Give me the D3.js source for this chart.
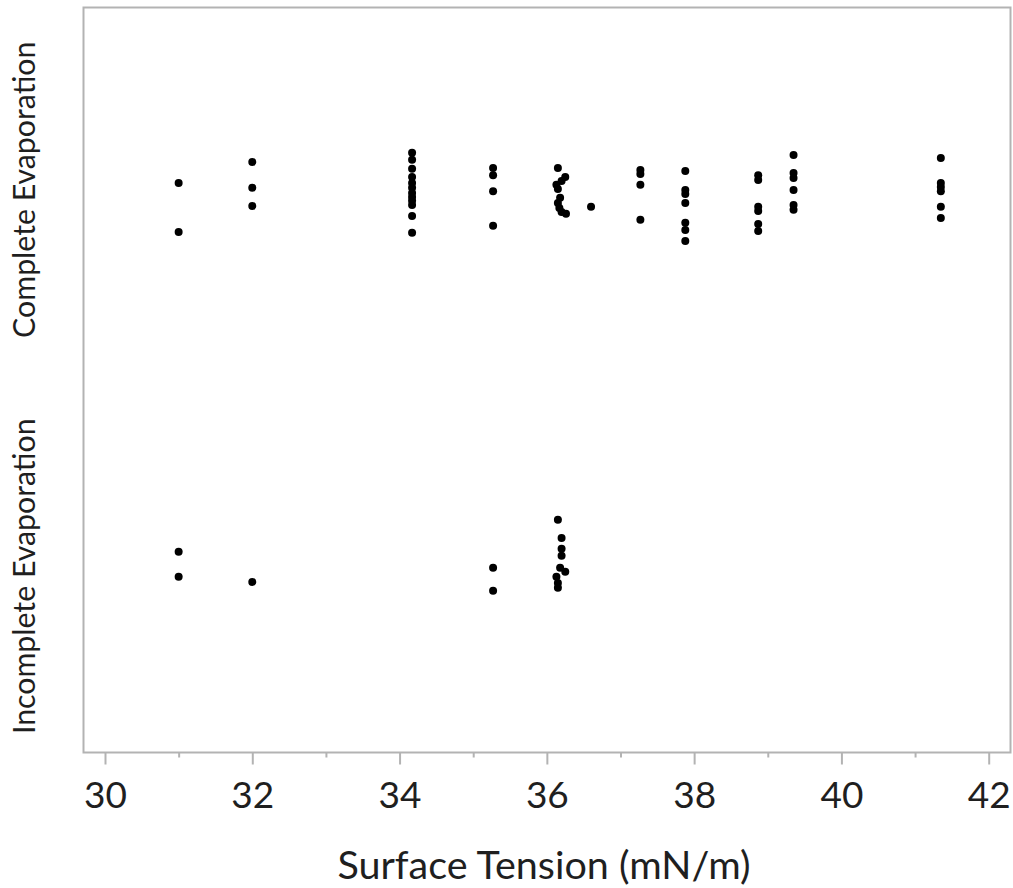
<!DOCTYPE html>
<html>
<head>
<meta charset="utf-8">
<script src="https://cdn.jsdelivr.net/npm/d3@7"></script>
<style>
  html, body { margin: 0; padding: 0; background: #fff; }
  svg { display: block; }
</style>
</head>
<body>
<svg id="chart" width="1013" height="888"></svg>
<script>
// ---- Data ----
const categories = ["Incomplete Evaporation", "Complete Evaporation"];
const categoryCenters = [0.5, 1.5];

// Complete Evaporation: surface tension (x) and jittered category position (y)
const completeX = [
  31.0, 31.0,
  32.0, 32.0, 32.0,
  34.17, 34.17, 34.17, 34.17, 34.17, 34.17, 34.17, 34.17, 34.17, 34.17, 34.17, 34.17,
  35.27, 35.27, 35.27, 35.27,
  36.15, 36.25, 36.2, 36.13, 36.15, 36.18, 36.15, 36.17, 36.2, 36.26,
  36.6,
  37.27, 37.27, 37.27, 37.27,
  37.88, 37.88, 37.88, 37.88, 37.88, 37.88, 37.88,
  38.87, 38.87, 38.87, 38.87, 38.87, 38.87,
  39.35, 39.35, 39.35, 39.35, 39.35, 39.35,
  41.35, 41.35, 41.35, 41.35, 41.35, 41.35
];
const completeY = [
  1.529, 1.397,
  1.585, 1.516, 1.467,
  1.610, 1.591, 1.567, 1.545, 1.529, 1.516, 1.502, 1.491, 1.481, 1.470, 1.440, 1.395,
  1.569, 1.550, 1.507, 1.414,
  1.569, 1.545, 1.534, 1.524, 1.513, 1.489, 1.475, 1.462, 1.451, 1.446,
  1.465,
  1.564, 1.553, 1.524, 1.430,
  1.561, 1.510, 1.499, 1.475, 1.422, 1.403, 1.373,
  1.550, 1.537, 1.465, 1.454, 1.419, 1.400,
  1.604, 1.556, 1.542, 1.510, 1.470, 1.457,
  1.596, 1.529, 1.518, 1.507, 1.465, 1.435
];

// Incomplete Evaporation
const incompleteX = [
  31.0, 31.0,
  32.0,
  35.27, 35.27,
  36.15, 36.2, 36.2, 36.2, 36.18, 36.25, 36.13, 36.15, 36.15
];
const incompleteY = [
  0.539, 0.472,
  0.458,
  0.496, 0.434,
  0.625, 0.576, 0.547, 0.528, 0.496, 0.485, 0.472, 0.455, 0.442
];

const xTicks = [30, 32, 34, 36, 38, 40, 42];
const xMinorTicks = [31, 33, 35, 37, 39, 41];
const xTitle = "Surface Tension (mN/m)";

// ---- Layout ----
(function () {
const svg = d3.select("#chart");
const mLeft = 83.5, mRight = 1010.5, mTop = 7.5, mBottom = 752.5;
const frameColor = "#b3b3b3";
const textColor = "#1f1f1f";
const font = "Lato, 'Open Sans', sans-serif";

const x = d3.scaleLinear().domain([30, 42]).range([105, 988.7]);
const y = d3.scaleLinear().domain([0, 2]).range([mBottom, mTop]);

// Frame
svg.append("rect")
  .attr("x", mLeft).attr("y", mTop)
  .attr("width", mRight - mLeft).attr("height", mBottom - mTop)
  .attr("fill", "none").attr("stroke", frameColor).attr("stroke-width", 2);

// X axis (major)
const xAxis = d3.axisBottom(x).tickValues(xTicks).tickSize(12).tickPadding(14).tickFormat(d3.format("d"));
const gx = svg.append("g").attr("transform", `translate(0,${mBottom})`).call(xAxis);
gx.select(".domain").remove();
gx.selectAll(".tick line").attr("stroke", frameColor).attr("stroke-width", 2);
gx.selectAll(".tick text")
  .attr("fill", textColor)
  .attr("font-family", font)
  .attr("font-size", 37)
  .attr("dy", null)
  .attr("y", 55);

// X axis (minor)
const xAxisMinor = d3.axisBottom(x).tickValues(xMinorTicks).tickSize(5).tickFormat("");
const gxm = svg.append("g").attr("transform", `translate(0,${mBottom})`).call(xAxisMinor);
gxm.select(".domain").remove();
gxm.selectAll(".tick line").attr("stroke", frameColor).attr("stroke-width", 2);

// X title
svg.append("text")
  .attr("x", 544)
  .attr("y", 879)
  .attr("text-anchor", "middle")
  .attr("fill", textColor)
  .attr("font-family", font)
  .attr("font-size", 39.5)
  .text(xTitle);

// Category labels (rotated)
const labelOffsets = [10, -4];
categories.forEach((c, i) => {
  const cy = y(categoryCenters[i]) + labelOffsets[i];
  svg.append("text")
    .attr("transform", `translate(35,${cy}) rotate(-90)`)
    .attr("text-anchor", "middle")
    .attr("fill", textColor)
    .attr("font-family", font)
    .attr("font-size", 30.3)
    .text(c);
});

// Points
const points = completeX.map((v, i) => ({x: v, y: completeY[i]}))
  .concat(incompleteX.map((v, i) => ({x: v, y: incompleteY[i]})));

svg.append("g")
  .selectAll("circle")
  .data(points)
  .join("circle")
  .attr("cx", d => x(d.x))
  .attr("cy", d => y(d.y))
  .attr("r", 4)
  .attr("fill", "#000");
})();
</script>
</body>
</html>
